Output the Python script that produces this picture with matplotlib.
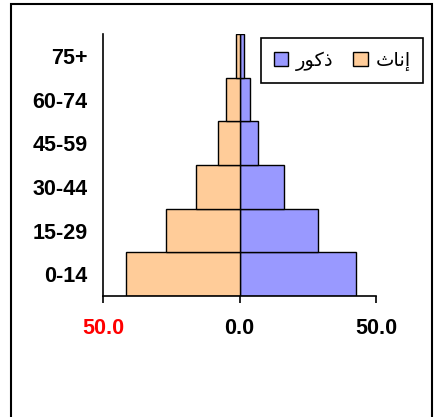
import matplotlib.pyplot as plt
from matplotlib.patches import Rectangle
from matplotlib.ticker import FuncFormatter

plt.rcParams['font.family'] = ['Liberation Sans', 'DejaVu Sans']

ages = ['0-14', '15-29', '30-44', '45-59', '60-74', '75+']
males = [42.8, 28.8, 16.3, 6.8, 3.8, 1.6]
females = [41.7, 26.9, 16.1, 8.0, 5.0, 1.3]
# Arabic labels written in presentation forms (visual order) since matplotlib does no shaping
label_m = '\uFEAD\uFEEE\uFEDB\uFEAB'   # ذكور
label_f = '\uFE99\uFE8E\uFEE7\uFE87'   # إناث
x_ticks = [-50, 0, 50]

fig = plt.figure(figsize=(4.35, 4.17), dpi=100)
ax = fig.add_axes([103/435, 1 - 296/417, 273/435, 262/417])

y = range(len(ages))
bm = ax.barh(y, males, height=1.0, color='#9999FF', edgecolor='black', linewidth=1.0, label=label_m)
bf = ax.barh(y, [-v for v in females], height=1.0, color='#FFCC99', edgecolor='black', linewidth=1.0, label=label_f)

ax.set_xlim(-50, 50)
ax.set_ylim(-0.5, len(ages) - 0.5)
ax.set_yticks(list(y))
ax.set_yticklabels(ages, fontsize=15.5, fontweight='bold')
ax.tick_params(axis='y', length=0, pad=11)
ax.set_xticks(x_ticks)
ax.xaxis.set_major_formatter(FuncFormatter(lambda v, p: '%.1f' % abs(v)))
ax.tick_params(axis='x', direction='out', length=5, width=1.2, pad=11, labelsize=15.5)
for lbl in ax.get_xticklabels():
    lbl.set_fontweight('bold')
ax.get_xticklabels()[0].set_color('red')

for s in ['top', 'right']:
    ax.spines[s].set_visible(False)
for s in ['left', 'bottom']:
    ax.spines[s].set_linewidth(1.2)

leg = fig.legend(handles=[bm, bf], labels=[label_m, label_f], ncol=2,
                 loc='upper left', bbox_to_anchor=(261/435, 1 - 38/417),
                 borderaxespad=0,
                 prop={'family': 'DejaVu Sans', 'size': 14},
                 handlelength=0.75, handleheight=0.75, handletextpad=0.4,
                 columnspacing=1.0, borderpad=0.65, fancybox=False,
                 edgecolor='black', framealpha=1)
leg.get_frame().set_linewidth(1.2)

fig.patches.append(Rectangle((11/435, -0.1), 421.5/435, 1.1 - 4/417,
                             transform=fig.transFigure, fill=False,
                             edgecolor='black', linewidth=1.5, clip_on=False))

fig.savefig('out.png', dpi=100)
